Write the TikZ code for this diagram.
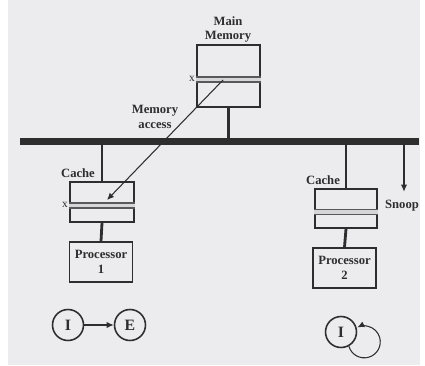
\documentclass[tikz,border=0pt]{standalone}
\usepackage{fontspec}
\setmainfont{Liberation Serif}
\usetikzlibrary{arrows.meta,positioning,calc}
\definecolor{Ink}{HTML}{2E2E2E}
\definecolor{Paper}{HTML}{ECECEE}
\definecolor{Band}{HTML}{D6D6D8}
\newcommand{\band}[1]{
  \fill[Band] ([yshift=-0.02cm]#1.west) rectangle ([yshift=-0.12cm]#1.east);
  \draw[Ink!80, line width=0.7pt] ([yshift=-0.02cm]#1.west) -- ([yshift=-0.02cm]#1.east);
  \draw[Ink!80, line width=0.7pt] ([yshift=-0.12cm]#1.west) -- ([yshift=-0.12cm]#1.east);
}

\begin{document}
\begin{tikzpicture}[x=0.02cm, y=0.02cm,
    unit/.style={draw=Ink, line width=1pt, fill=Paper, inner sep=0pt, align=center,
      text=Ink, font=\fontsize{7.2}{8.5}\selectfont\bfseries},
    lbl/.style={text=Ink, font=\fontsize{7.2}{8.5}\selectfont\bfseries, inner sep=0.5pt, align=center},
    state/.style={circle, draw=Ink, line width=0.9pt, minimum size=0.62cm, inner sep=0pt,
      text=Ink, font=\fontsize{9}{10}\selectfont\bfseries},
    stem/.style={Ink, line width=1.6pt},
    tip/.style={Ink, line width=0.6pt, -{Latex[length=4pt,width=3.5pt]}}]
        \fill[white] (0,0) rectangle (425,365);
        \fill[Paper] (8,0) rectangle (420,365);
        % memory on the bus
        \node[unit, minimum width=1.26cm, minimum height=1.24cm] (mem) at (228.5,289) {};
        \band{mem}
        \node[lbl] (memlbl) at (228,335.5) {Main\\Memory};
        \node[lbl, font=\fontsize{6.5}{7}\selectfont, anchor=east] (mx) at ([yshift=-0.06cm]mem.west) {x};
        \coordinate (busL) at (20,223.5);
        \coordinate (busR) at (419,223.5);
        \draw[Ink, line width=4pt] (busL) -- (busR);
        \draw[stem] (mem.south) -- (mem.south |- busL);
        % first processor
        \node[unit, minimum width=1.28cm, minimum height=0.8cm] (cache1) at (102,163) {};
        \band{cache1}
        \node[lbl] (c1lbl) at (78,192) {Cache};
        \node[lbl, font=\fontsize{6.5}{7}\selectfont, anchor=east] (cx) at ([yshift=-0.06cm]cache1.west) {x};
        \node[unit, minimum width=1.26cm, minimum height=0.8cm] (proc1) at (101,103) {Processor\\1};
        \draw[stem] (cache1.north) -- (cache1.north |- busL);
        \draw[stem] (cache1.south) -- (proc1.north);
        % second processor
        \node[unit, minimum width=1.24cm, minimum height=0.78cm] (cache2) at (346,156.5) {};
        \band{cache2}
        \node[lbl] (c2lbl) at (323,185) {Cache};
        \node[unit, minimum width=1.26cm, minimum height=0.8cm] (proc2) at (344.5,97) {Processor\\2};
        \draw[stem] (cache2.north) -- (cache2.north |- busL);
        \draw[stem] (cache2.south) -- (proc2.north);
        % read miss and snoop
        \coordinate (hit) at (223,285);
        \coordinate (miss) at (107,165);
        \draw[tip] (hit) -- (miss);
        \node[lbl] (acc) at (155,248.5) {Memory\\access};
        \coordinate (tap) at (404,221);
        \node[lbl] (snoop) at (402,159) {Snoop};
        \draw[tip] (tap) -- ([yshift=0.15cm]snoop.north -| tap);
        % states
        \node[state] (i1) at (68,40) {I};
        \node[state] (e1) at (130,40) {E};
        \draw[tip] (i1) -- (e1);
        \node[state] (i2) at (341,33) {I};
        \draw[tip] (i2.-61) arc[start angle=196, end angle=476, radius=0.32cm];
      \end{tikzpicture}
\end{document}
